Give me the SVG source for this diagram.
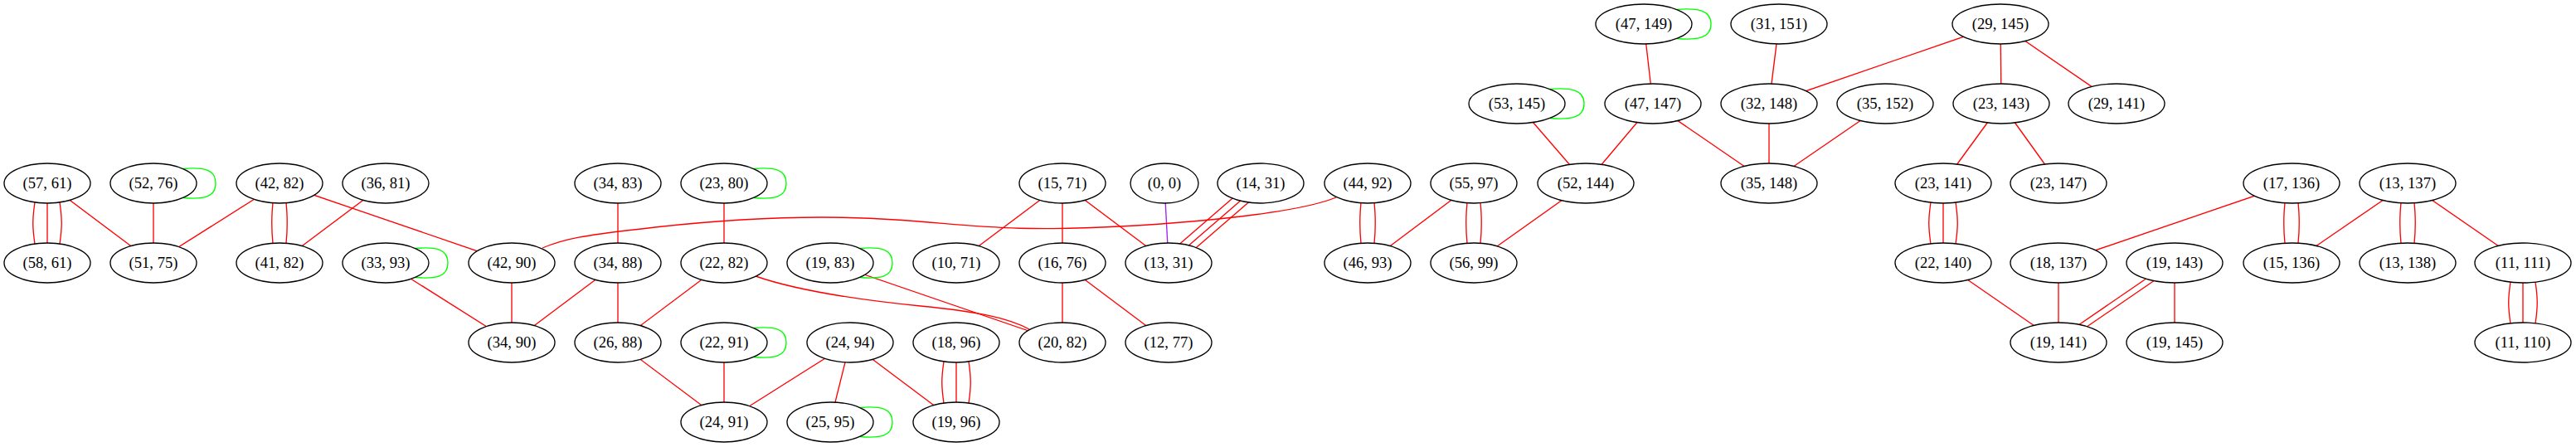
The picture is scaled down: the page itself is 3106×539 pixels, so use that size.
<svg xmlns="http://www.w3.org/2000/svg" width="3106" height="539" viewBox="0 0 3106 539">
<style>
.node ellipse{fill:#ffffff;stroke:#000000;stroke-width:1.33}
.node text{font-family:"Liberation Serif","Times New Roman",serif;font-size:18.67px;text-anchor:middle;fill:#000000}
#edges path{fill:none;stroke:#ff0000;stroke-width:1.33}
#edges path.loop{stroke:#00ff00}
#edges path.pur{stroke:#a020f0}
</style>
<rect width="3106" height="539" fill="#ffffff"/>
<g id="edges">
<path d="M57,221 L185,317"/>
<path d="M185,221 L185,317"/>
<path d="M337,221 L185,317"/>
<path d="M337,221 L617,317"/>
<path d="M465,221 L337,317"/>
<path d="M465,317 L617,413"/>
<path d="M617,317 L617,413"/>
<path d="M745,317 L617,413"/>
<path d="M745,221 L745,317"/>
<path d="M745,317 L745,413"/>
<path d="M873,221 L873,317"/>
<path d="M873,317 L745,413"/>
<path d="M1001,317 L1281,413"/>
<path d="M745,413 L873,509"/>
<path d="M873,413 L873,509"/>
<path d="M1025,413 L873,509"/>
<path d="M1025,413 L1001,509"/>
<path d="M1025,413 L1153,509"/>
<path d="M1281,221 L1153,317"/>
<path d="M1281,221 L1281,317"/>
<path d="M1281,221 L1409,317"/>
<path d="M1281,317 L1281,413"/>
<path d="M1281,317 L1409,413"/>
<path d="M1777,221 L1649,317"/>
<path d="M1912,221 L1777,317"/>
<path d="M1829,125 L1912,221"/>
<path d="M1993,125 L1912,221"/>
<path d="M1982,29 L1993,125"/>
<path d="M1993,125 L2133,221"/>
<path d="M2145,29 L2133,125"/>
<path d="M2412,29 L2133,125"/>
<path d="M2133,125 L2133,221"/>
<path d="M2273,125 L2133,221"/>
<path d="M2412,29 L2413,125"/>
<path d="M2412,29 L2552,125"/>
<path d="M2413,125 L2343,221"/>
<path d="M2413,125 L2482,221"/>
<path d="M2343,317 L2482,413"/>
<path d="M2763,221 L2482,317"/>
<path d="M2903,221 L2763,317"/>
<path d="M2903,221 L3042,317"/>
<path d="M2482,317 L2482,413"/>
<path d="M2622,317 L2622,413"/>
<path class="pur" d="M1404,221 L1409,317"/>
<path d="M1611,238 C1575,253 1480,266 1350,273 S1180,272 1080,265 S880,264 790,274 S680,288 654,299"/>
<path d="M911,333 C960,350 1040,362 1110,369 S1215,383 1241,397"/>
<path d="M42,244 C39,264 39,274 42,294"/><path d="M57,221 L57,317"/><path d="M72,244 C75,264 75,274 72,294"/>
<path d="M329,244.5 C327,264 327,274 329,293.5"/><path d="M345,244.5 C347,264 347,274 345,293.5"/>
<path d="M1138,436 C1135,456 1135,466 1138,486"/><path d="M1153,413 L1153,509"/><path d="M1168,436 C1171,456 1171,466 1168,486"/>
<path d="M1641,244.5 C1639,264 1639,274 1641,293.5"/><path d="M1657,244.5 C1659,264 1659,274 1657,293.5"/>
<path d="M1769,244.5 C1767,264 1767,274 1769,293.5"/><path d="M1785,244.5 C1787,264 1787,274 1785,293.5"/>
<path d="M2328,244 C2325,264 2325,274 2328,294"/><path d="M2343,221 L2343,317"/><path d="M2358,244 C2361,264 2361,274 2358,294"/>
<path d="M2755,244.5 C2753,264 2753,274 2755,293.5"/><path d="M2771,244.5 C2773,264 2773,274 2771,293.5"/>
<path d="M2895,244.5 C2893,264 2893,274 2895,293.5"/><path d="M2911,244.5 C2913,264 2913,274 2911,293.5"/>
<path d="M3027,340 C3024,360 3024,370 3027,390"/><path d="M3042,317 L3042,413"/><path d="M3057,340 C3060,360 3060,370 3057,390"/>
<path d="M1507,221 L1396,317"/><path d="M1520,221 L1409,317"/><path d="M1532,221 L1421,317"/>
<path d="M2615.5,317 L2475.5,413"/><path d="M2628.5,317 L2488.5,413"/>
<path class="loop" d="M220.6,203.5 C245.6,201.5 260,204 260,221 C260,238 245.6,240.5 220.6,238.5"/>
<path class="loop" d="M908.6,203.5 C933.6,201.5 948,204 948,221 C948,238 933.6,240.5 908.6,238.5"/>
<path class="loop" d="M500.6,299.5 C525.6,297.5 540,300 540,317 C540,334 525.6,336.5 500.6,334.5"/>
<path class="loop" d="M1036.6,299.5 C1061.6,297.5 1076,300 1076,317 C1076,334 1061.6,336.5 1036.6,334.5"/>
<path class="loop" d="M908.6,395.5 C933.6,393.5 948,396 948,413 C948,430 933.6,432.5 908.6,430.5"/>
<path class="loop" d="M1036.6,491.5 C1061.6,489.5 1076,492 1076,509 C1076,526 1061.6,528.5 1036.6,526.5"/>
<path class="loop" d="M2021.7,11.5 C2046.7,9.5 2063,12 2063,29 C2063,46 2046.7,48.5 2021.7,46.5"/>
<path class="loop" d="M1868.7,107.5 C1893.7,105.5 1910,108 1910,125 C1910,142 1893.7,144.5 1868.7,142.5"/>
</g>
<g id="n47_149" class="node"><ellipse cx="1982" cy="29" rx="58" ry="24"/><text x="1982" y="35">(47, 149)</text></g>
<g id="n31_151" class="node"><ellipse cx="2145" cy="29" rx="58" ry="24"/><text x="2145" y="35">(31, 151)</text></g>
<g id="n29_145" class="node"><ellipse cx="2412" cy="29" rx="58" ry="24"/><text x="2412" y="35">(29, 145)</text></g>
<g id="n53_145" class="node"><ellipse cx="1829" cy="125" rx="58" ry="24"/><text x="1829" y="131">(53, 145)</text></g>
<g id="n47_147" class="node"><ellipse cx="1993" cy="125" rx="58" ry="24"/><text x="1993" y="131">(47, 147)</text></g>
<g id="n32_148" class="node"><ellipse cx="2133" cy="125" rx="58" ry="24"/><text x="2133" y="131">(32, 148)</text></g>
<g id="n35_152" class="node"><ellipse cx="2273" cy="125" rx="58" ry="24"/><text x="2273" y="131">(35, 152)</text></g>
<g id="n23_143" class="node"><ellipse cx="2413" cy="125" rx="58" ry="24"/><text x="2413" y="131">(23, 143)</text></g>
<g id="n29_141" class="node"><ellipse cx="2552" cy="125" rx="58" ry="24"/><text x="2552" y="131">(29, 141)</text></g>
<g id="n57_61" class="node"><ellipse cx="57" cy="221" rx="52" ry="24"/><text x="57" y="227">(57, 61)</text></g>
<g id="n52_76" class="node"><ellipse cx="185" cy="221" rx="52" ry="24"/><text x="185" y="227">(52, 76)</text></g>
<g id="n42_82" class="node"><ellipse cx="337" cy="221" rx="52" ry="24"/><text x="337" y="227">(42, 82)</text></g>
<g id="n36_81" class="node"><ellipse cx="465" cy="221" rx="52" ry="24"/><text x="465" y="227">(36, 81)</text></g>
<g id="n34_83" class="node"><ellipse cx="745" cy="221" rx="52" ry="24"/><text x="745" y="227">(34, 83)</text></g>
<g id="n23_80" class="node"><ellipse cx="873" cy="221" rx="52" ry="24"/><text x="873" y="227">(23, 80)</text></g>
<g id="n15_71" class="node"><ellipse cx="1281" cy="221" rx="52" ry="24"/><text x="1281" y="227">(15, 71)</text></g>
<g id="n0_0" class="node"><ellipse cx="1404" cy="221" rx="41" ry="24"/><text x="1404" y="227">(0, 0)</text></g>
<g id="n14_31" class="node"><ellipse cx="1520" cy="221" rx="52" ry="24"/><text x="1520" y="227">(14, 31)</text></g>
<g id="n44_92" class="node"><ellipse cx="1649" cy="221" rx="52" ry="24"/><text x="1649" y="227">(44, 92)</text></g>
<g id="n55_97" class="node"><ellipse cx="1777" cy="221" rx="52" ry="24"/><text x="1777" y="227">(55, 97)</text></g>
<g id="n52_144" class="node"><ellipse cx="1912" cy="221" rx="58" ry="24"/><text x="1912" y="227">(52, 144)</text></g>
<g id="n35_148" class="node"><ellipse cx="2133" cy="221" rx="58" ry="24"/><text x="2133" y="227">(35, 148)</text></g>
<g id="n23_141" class="node"><ellipse cx="2343" cy="221" rx="58" ry="24"/><text x="2343" y="227">(23, 141)</text></g>
<g id="n23_147" class="node"><ellipse cx="2482" cy="221" rx="58" ry="24"/><text x="2482" y="227">(23, 147)</text></g>
<g id="n17_136" class="node"><ellipse cx="2763" cy="221" rx="58" ry="24"/><text x="2763" y="227">(17, 136)</text></g>
<g id="n13_137" class="node"><ellipse cx="2903" cy="221" rx="58" ry="24"/><text x="2903" y="227">(13, 137)</text></g>
<g id="n58_61" class="node"><ellipse cx="57" cy="317" rx="52" ry="24"/><text x="57" y="323">(58, 61)</text></g>
<g id="n51_75" class="node"><ellipse cx="185" cy="317" rx="52" ry="24"/><text x="185" y="323">(51, 75)</text></g>
<g id="n41_82" class="node"><ellipse cx="337" cy="317" rx="52" ry="24"/><text x="337" y="323">(41, 82)</text></g>
<g id="n33_93" class="node"><ellipse cx="465" cy="317" rx="52" ry="24"/><text x="465" y="323">(33, 93)</text></g>
<g id="n42_90" class="node"><ellipse cx="617" cy="317" rx="52" ry="24"/><text x="617" y="323">(42, 90)</text></g>
<g id="n34_88" class="node"><ellipse cx="745" cy="317" rx="52" ry="24"/><text x="745" y="323">(34, 88)</text></g>
<g id="n22_82" class="node"><ellipse cx="873" cy="317" rx="52" ry="24"/><text x="873" y="323">(22, 82)</text></g>
<g id="n19_83" class="node"><ellipse cx="1001" cy="317" rx="52" ry="24"/><text x="1001" y="323">(19, 83)</text></g>
<g id="n10_71" class="node"><ellipse cx="1153" cy="317" rx="52" ry="24"/><text x="1153" y="323">(10, 71)</text></g>
<g id="n16_76" class="node"><ellipse cx="1281" cy="317" rx="52" ry="24"/><text x="1281" y="323">(16, 76)</text></g>
<g id="n13_31" class="node"><ellipse cx="1409" cy="317" rx="52" ry="24"/><text x="1409" y="323">(13, 31)</text></g>
<g id="n46_93" class="node"><ellipse cx="1649" cy="317" rx="52" ry="24"/><text x="1649" y="323">(46, 93)</text></g>
<g id="n56_99" class="node"><ellipse cx="1777" cy="317" rx="52" ry="24"/><text x="1777" y="323">(56, 99)</text></g>
<g id="n22_140" class="node"><ellipse cx="2343" cy="317" rx="58" ry="24"/><text x="2343" y="323">(22, 140)</text></g>
<g id="n18_137" class="node"><ellipse cx="2482" cy="317" rx="58" ry="24"/><text x="2482" y="323">(18, 137)</text></g>
<g id="n19_143" class="node"><ellipse cx="2622" cy="317" rx="58" ry="24"/><text x="2622" y="323">(19, 143)</text></g>
<g id="n15_136" class="node"><ellipse cx="2763" cy="317" rx="58" ry="24"/><text x="2763" y="323">(15, 136)</text></g>
<g id="n13_138" class="node"><ellipse cx="2903" cy="317" rx="58" ry="24"/><text x="2903" y="323">(13, 138)</text></g>
<g id="n11_111" class="node"><ellipse cx="3042" cy="317" rx="58" ry="24"/><text x="3042" y="323">(11, 111)</text></g>
<g id="n34_90" class="node"><ellipse cx="617" cy="413" rx="52" ry="24"/><text x="617" y="419">(34, 90)</text></g>
<g id="n26_88" class="node"><ellipse cx="745" cy="413" rx="52" ry="24"/><text x="745" y="419">(26, 88)</text></g>
<g id="n22_91" class="node"><ellipse cx="873" cy="413" rx="52" ry="24"/><text x="873" y="419">(22, 91)</text></g>
<g id="n24_94" class="node"><ellipse cx="1025" cy="413" rx="52" ry="24"/><text x="1025" y="419">(24, 94)</text></g>
<g id="n18_96" class="node"><ellipse cx="1153" cy="413" rx="52" ry="24"/><text x="1153" y="419">(18, 96)</text></g>
<g id="n20_82" class="node"><ellipse cx="1281" cy="413" rx="52" ry="24"/><text x="1281" y="419">(20, 82)</text></g>
<g id="n12_77" class="node"><ellipse cx="1409" cy="413" rx="52" ry="24"/><text x="1409" y="419">(12, 77)</text></g>
<g id="n19_141" class="node"><ellipse cx="2482" cy="413" rx="58" ry="24"/><text x="2482" y="419">(19, 141)</text></g>
<g id="n19_145" class="node"><ellipse cx="2622" cy="413" rx="58" ry="24"/><text x="2622" y="419">(19, 145)</text></g>
<g id="n11_110" class="node"><ellipse cx="3042" cy="413" rx="58" ry="24"/><text x="3042" y="419">(11, 110)</text></g>
<g id="n24_91" class="node"><ellipse cx="873" cy="509" rx="52" ry="24"/><text x="873" y="515">(24, 91)</text></g>
<g id="n25_95" class="node"><ellipse cx="1001" cy="509" rx="52" ry="24"/><text x="1001" y="515">(25, 95)</text></g>
<g id="n19_96" class="node"><ellipse cx="1153" cy="509" rx="52" ry="24"/><text x="1153" y="515">(19, 96)</text></g>
</svg>
